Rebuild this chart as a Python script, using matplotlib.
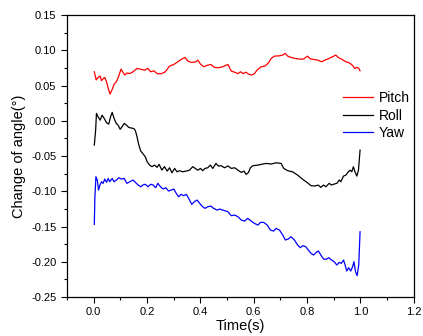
import matplotlib
matplotlib.use("Agg")
import matplotlib.pyplot as plt
from matplotlib.ticker import MultipleLocator

plt.rcParams['font.family'] = ['Liberation Sans', 'DejaVu Sans']

# values
pitch_t = [0.003, 0.01, 0.017, 0.025, 0.03, 0.037, 0.042, 0.049, 0.055, 0.062,
           0.07, 0.077, 0.087, 0.096, 0.103, 0.11, 0.117, 0.127, 0.136, 0.146,
           0.163, 0.179, 0.192, 0.204, 0.214, 0.226, 0.239, 0.254, 0.269, 0.285,
           0.301, 0.316, 0.328, 0.343, 0.353, 0.366, 0.381, 0.391, 0.401, 0.413,
           0.428, 0.44, 0.453, 0.468, 0.484, 0.504, 0.516, 0.529, 0.541, 0.551,
           0.561, 0.571, 0.581, 0.593, 0.603, 0.613, 0.628, 0.643, 0.656, 0.666,
           0.678, 0.697, 0.709, 0.718, 0.728, 0.74, 0.755, 0.771, 0.787, 0.795,
           0.802, 0.812, 0.827, 0.842, 0.855, 0.867, 0.883, 0.896, 0.908, 0.917,
           0.929, 0.946, 0.958, 0.97, 0.979, 0.987, 0.994, 0.999]
pitch_v = [0.0696, 0.058, 0.0616, 0.0635, 0.057, 0.060, 0.0616, 0.0554, 0.046, 0.038,
           0.0446, 0.0517, 0.0564, 0.065, 0.0734, 0.069, 0.065, 0.068, 0.067, 0.069,
           0.0744, 0.073, 0.072, 0.0744, 0.0696, 0.071, 0.067, 0.0668, 0.0696, 0.0777,
           0.080, 0.0838, 0.087, 0.090, 0.085, 0.083, 0.0833, 0.086, 0.0805, 0.0767,
           0.079, 0.080, 0.0758, 0.0753, 0.0767, 0.080, 0.0706, 0.069, 0.067, 0.0696,
           0.067, 0.069, 0.0663, 0.065, 0.067, 0.072, 0.0767, 0.0777, 0.0824, 0.0886,
           0.0918, 0.0923, 0.0933, 0.0957, 0.0918, 0.090, 0.0886, 0.0876, 0.0876, 0.090,
           0.0918, 0.088, 0.087, 0.086, 0.0838, 0.086, 0.0886, 0.091, 0.0933, 0.090,
           0.0876, 0.0838, 0.0824, 0.079, 0.0744, 0.0758, 0.0748, 0.071]

roll_t = [0.003, 0.008, 0.011, 0.017, 0.025, 0.032, 0.04, 0.049, 0.057, 0.064,
          0.07, 0.077, 0.085, 0.092, 0.1, 0.107, 0.115, 0.123, 0.132, 0.142,
          0.151, 0.157, 0.163, 0.169, 0.177, 0.184, 0.194, 0.201, 0.21, 0.219,
          0.229, 0.238, 0.246, 0.256, 0.266, 0.276, 0.285, 0.294, 0.304, 0.313,
          0.322, 0.335, 0.347, 0.36, 0.372, 0.381, 0.391, 0.401, 0.409, 0.418,
          0.428, 0.438, 0.447, 0.459, 0.468, 0.478, 0.491, 0.504, 0.516, 0.529,
          0.541, 0.554, 0.564, 0.572, 0.581, 0.588, 0.597, 0.616, 0.628, 0.647,
          0.666, 0.684, 0.703, 0.713, 0.728, 0.746, 0.765, 0.784, 0.802, 0.815,
          0.83, 0.842, 0.852, 0.862, 0.871, 0.883, 0.892, 0.902, 0.912, 0.921,
          0.927, 0.937, 0.946, 0.955, 0.962, 0.968, 0.974, 0.98, 0.987, 0.993, 0.999]
roll_v = [-0.0344, -0.013, 0.0106, 0.0058, 0.001, 0.008, 0.0035, -0.0028, -0.0046, 0.0058,
          0.012, 0.0035, -0.0036, -0.006, -0.012, -0.0084, -0.0036, -0.006, -0.0093, -0.0103,
          -0.0108, -0.014, -0.0226, -0.033, -0.043, -0.046, -0.051, -0.058, -0.0628, -0.065,
          -0.0628, -0.066, -0.0618, -0.0699, -0.065, -0.0713, -0.0666, -0.0737, -0.0675, -0.0723,
          -0.0708, -0.0723, -0.0713, -0.070, -0.065, -0.0675, -0.070, -0.0675, -0.0708, -0.0675,
          -0.0666, -0.0628, -0.0675, -0.0604, -0.0642, -0.0637, -0.0666, -0.064, -0.0675, -0.0666,
          -0.070, -0.0732, -0.0713, -0.076, -0.0732, -0.0666, -0.0637, -0.0628, -0.0618, -0.0604,
          -0.0613, -0.0595, -0.0604, -0.0675, -0.0708, -0.0723, -0.077, -0.083, -0.0879, -0.092,
          -0.0925, -0.0911, -0.0944, -0.0911, -0.0935, -0.0887, -0.0911, -0.0897, -0.0887, -0.084,
          -0.0864, -0.0784, -0.077, -0.0723, -0.070, -0.0723, -0.0652, -0.0723, -0.0784, -0.070, -0.0415]

yaw_t = [0.003, 0.005, 0.009, 0.014, 0.019, 0.024, 0.03, 0.036, 0.042, 0.049,
         0.055, 0.061, 0.07, 0.077, 0.086, 0.095, 0.104, 0.115, 0.125, 0.136,
         0.148, 0.157, 0.167, 0.177, 0.185, 0.194, 0.204, 0.214, 0.224, 0.233,
         0.241, 0.251, 0.261, 0.271, 0.281, 0.291, 0.301, 0.31, 0.319, 0.328,
         0.338, 0.348, 0.36, 0.368, 0.378, 0.388, 0.398, 0.409, 0.418, 0.428,
         0.44, 0.45, 0.463, 0.473, 0.484, 0.496, 0.504, 0.516, 0.529, 0.541,
         0.554, 0.566, 0.578, 0.591, 0.603, 0.616, 0.626, 0.638, 0.651, 0.663,
         0.675, 0.684, 0.697, 0.709, 0.719, 0.73, 0.74, 0.753, 0.765, 0.775,
         0.785, 0.795, 0.805, 0.815, 0.825, 0.835, 0.843, 0.852, 0.862, 0.872,
         0.882, 0.892, 0.902, 0.912, 0.921, 0.929, 0.937, 0.943, 0.949, 0.956,
         0.964, 0.971, 0.976, 0.982, 0.988, 0.994, 0.999]
yaw_v = [-0.1469, -0.11, -0.0793, -0.084, -0.0982, -0.0911, -0.0864, -0.0887, -0.0826, -0.0873,
         -0.0817, -0.0864, -0.0817, -0.0864, -0.084, -0.0808, -0.0826, -0.0817, -0.0887, -0.0864,
         -0.084, -0.0873, -0.0911, -0.0935, -0.0911, -0.090, -0.0935, -0.090, -0.0911, -0.0949,
         -0.0887, -0.0935, -0.0968, -0.0949, -0.0996, -0.0982, -0.0968, -0.1029, -0.1077, -0.1043,
         -0.1063, -0.1043, -0.1124, -0.1185, -0.1148, -0.1124, -0.1171, -0.1219, -0.1242, -0.1219,
         -0.1209, -0.1242, -0.1266, -0.1252, -0.1266, -0.128, -0.129, -0.1346, -0.1337, -0.136,
         -0.1408, -0.1422, -0.1384, -0.1422, -0.1455, -0.1479, -0.1441, -0.1441, -0.1479, -0.155,
         -0.1564, -0.1526, -0.155, -0.162, -0.1691, -0.1677, -0.1645, -0.1691, -0.1762, -0.18,
         -0.1771, -0.1785, -0.1833, -0.188, -0.1904, -0.1866, -0.1848, -0.1904, -0.1961, -0.1965,
         -0.1943, -0.1975, -0.1999, -0.2046, -0.2008, -0.2022, -0.1975, -0.2046, -0.2131, -0.2084,
         -0.2131, -0.207, -0.1999, -0.2141, -0.2197, -0.2046, -0.1574]

fig = plt.figure(figsize=(4.23, 3.36), dpi=100)
ax = fig.add_axes([0.158, 0.116, 0.820, 0.839])

ax.plot(pitch_t, pitch_v, color='#ff0000', lw=0.9, label='Pitch')
ax.plot(roll_t, roll_v, color='#000000', lw=0.9, label='Roll')
ax.plot(yaw_t, yaw_v, color='#0000ff', lw=0.9, label='Yaw')

ax.set_xlim(-0.1, 1.2)
ax.set_ylim(-0.25, 0.15)
ax.xaxis.set_major_locator(MultipleLocator(0.2))
ax.xaxis.set_minor_locator(MultipleLocator(0.1))
ax.yaxis.set_major_locator(MultipleLocator(0.05))
ax.yaxis.set_minor_locator(MultipleLocator(0.025))
ax.xaxis.set_major_formatter(lambda v, p: "%.1f" % v)
ax.yaxis.set_major_formatter(lambda v, p: "%.2f" % v)
ax.tick_params(which='major', length=4, width=0.8, labelsize=8, direction='out')
ax.tick_params(which='minor', length=2, width=0.8, direction='out')
for s in ax.spines.values():
    s.set_linewidth(0.9)

ax.set_xlabel("Time(s)", fontsize=10.5, labelpad=1)
ax.set_ylabel("Change of angle(°)", fontsize=10.5, labelpad=4)

ax.legend(loc='upper left', bbox_to_anchor=(0.78, 0.75), frameon=False,
          fontsize=10, handlelength=2.2, handletextpad=0.4, labelspacing=0.25,
          borderaxespad=0)

fig.savefig("out.png", dpi=100)
